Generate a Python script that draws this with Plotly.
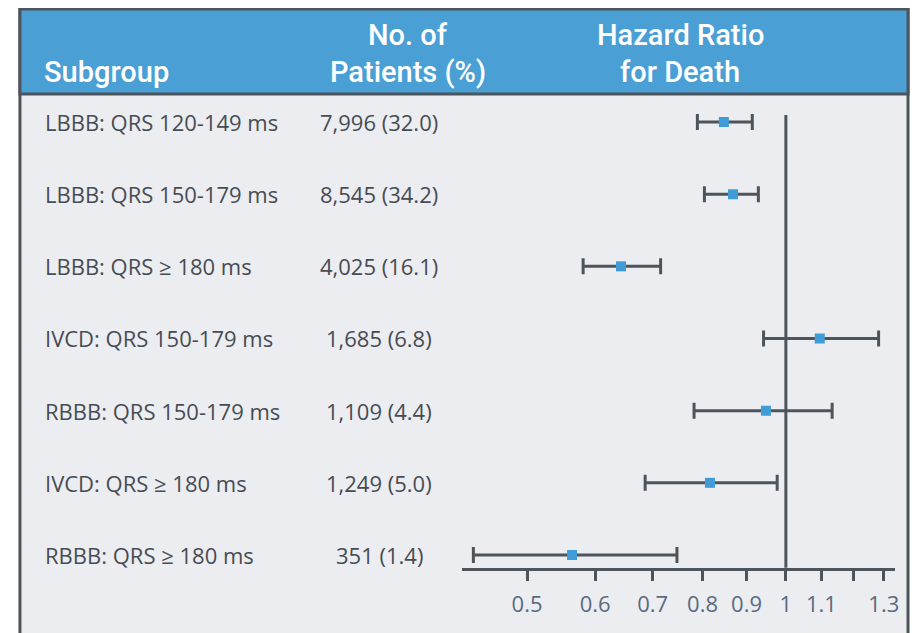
import math
import plotly.graph_objects as go

# page body has an 8px margin; figure is sized to fit the window
OFF = 8
W, H = 918 - OFF, 633 - OFF

subgroups = ["LBBB: QRS 120-149 ms", "LBBB: QRS 150-179 ms", "LBBB: QRS \u2265 180 ms",
             "IVCD: QRS 150-179 ms", "RBBB: QRS 150-179 ms", "IVCD: QRS \u2265 180 ms",
             "RBBB: QRS \u2265 180 ms"]
patients = ["7,996 (32.0)", "8,545 (34.2)", "4,025 (16.1)", "1,685 (6.8)",
            "1,109 (4.4)", "1,249 (5.0)", "351 (1.4)"]
hr = [0.847, 0.868, 0.643, 1.095, 0.948, 0.816, 0.564]
ci_low = [0.789, 0.804, 0.581, 0.942, 0.782, 0.686, 0.433]
ci_high = [0.914, 0.929, 0.715, 1.282, 1.132, 0.977, 0.747]
tick_vals = [0.5, 0.6, 0.7, 0.8, 0.9, 1, 1.1, 1.2, 1.3]
tick_text = ["0.5", "0.6", "0.7", "0.8", "0.9", "1", "1.1", "", "1.3"]

rows = list(range(len(subgroups)))

DARK = "#4d545b"
BLUE = "#4a9fd5"
BG = "#ecedf1"
TXT = "#474c53"


def px(x):
    return (x - OFF) / W


def py(y):
    return 1 - (y - OFF) / H


fig = go.Figure()
fig.add_trace(go.Scatter(
    x=hr, y=rows, mode="markers",
    marker=dict(symbol="square", size=10, color="#3f9cd6"),
    error_x=dict(type="data", symmetric=False,
                 array=[h - m for h, m in zip(ci_high, hr)],
                 arrayminus=[m - l for m, l in zip(hr, ci_low)],
                 color=DARK, thickness=3, width=8),
    showlegend=False, hoverinfo="skip"))

shapes = [
    dict(type="rect", xref="paper", yref="paper", x0=px(20), x1=px(912), y0=py(660), y1=py(9),
         fillcolor=BG, line=dict(color=DARK, width=3), layer="below"),
    dict(type="rect", xref="paper", yref="paper", x0=px(20), x1=px(912), y0=py(94), y1=py(9),
         fillcolor=BLUE, line=dict(color=DARK, width=3), layer="below"),
    dict(type="line", xref="x", yref="paper", x0=1, x1=1, y0=py(567.7), y1=py(115),
         line=dict(color=DARK, width=3), layer="below"),
]

annotations = []
hdr_font = dict(family="Roboto, sans-serif", size=29, color="white", weight=500)
for txt, x, y, anc in [("Subgroup", 42, 72, "left"), ("No. of", 410, 35, "center"),
                       ("Patients (%)", 410, 72, "center"), ("Hazard Ratio", 683, 35, "center"),
                       ("for Death", 683, 72, "center")]:
    annotations.append(dict(text=txt, x=px(x), y=py(y), xanchor=anc, yanchor="middle",
                            showarrow=False, font=hdr_font, xref="paper", yref="paper"))

row_font = dict(family="Open Sans, Noto Sans, sans-serif", size=22, color=TXT)
for i, (s, p) in enumerate(zip(subgroups, patients)):
    annotations.append(dict(text=s, x=px(43), y=i, xref="paper", yref="y", xanchor="left",
                            yanchor="middle", showarrow=False, font=row_font))
    annotations.append(dict(text=p, x=px(381), y=i, xref="paper", yref="y", xanchor="center",
                            yanchor="middle", showarrow=False, font=row_font))

ppd = 375 * math.log(10)
x_left = (464 - 789.3) / ppd
x_right = (899 - 789.3) / ppd

fig.update_layout(
    width=W, height=H,
    margin=dict(l=0, r=0, t=0, b=0),
    paper_bgcolor="white", plot_bgcolor="rgba(0,0,0,0)",
    shapes=shapes, annotations=annotations,
    xaxis=dict(type="log", range=[x_left, x_right], domain=[px(464), px(899)],
               tickvals=tick_vals, ticktext=tick_text, showgrid=False, zeroline=False,
               showline=True, linecolor=DARK, linewidth=3,
               ticks="outside", ticklen=10, tickwidth=3, tickcolor=DARK,
               tickfont=dict(family="Open Sans, Noto Sans, sans-serif", size=22, color="#5a6a80"),
               ticklabelstandoff=5),
    yaxis=dict(range=[6.176, -0.166], domain=[py(567.7), py(110)], visible=False,
               showgrid=False, zeroline=False),
)

fig.write_html("out.html")
